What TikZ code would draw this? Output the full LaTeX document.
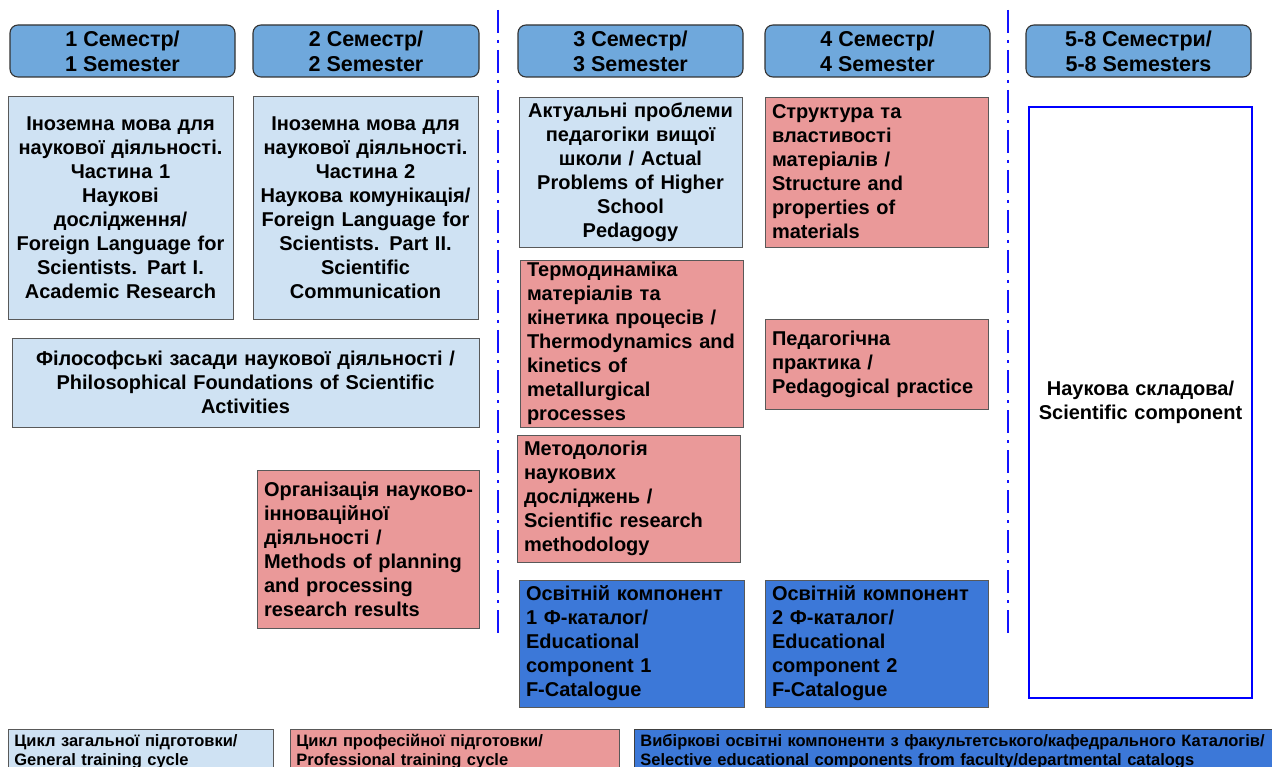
\documentclass[tikz,border=0pt]{standalone}
\usepackage{fontspec}
\setmainfont{Liberation Sans}
\usetikzlibrary{positioning}
\definecolor{hdr}{HTML}{6FA8DC}
\definecolor{lblue}{HTML}{CFE2F3}
\definecolor{pinkc}{HTML}{EA9999}
\definecolor{dblue}{HTML}{3C78D8}
\definecolor{bordg}{HTML}{595959}
\definecolor{sepblue}{HTML}{1414FF}
\begin{document}
\begin{tikzpicture}[x=1pt,y=-1pt,
  hdrbox/.style={draw=black!80, line width=1.1pt, rounded corners=8pt, fill=hdr,
    minimum height=52pt, inner sep=0pt, align=center,
    font=\fontsize{21.5}{25}\selectfont\bfseries},
  cbox/.style={draw=bordg, line width=0.8pt, inner xsep=7pt, inner ysep=0pt,
    align=center, font=\fontsize{20}{24}\selectfont\bfseries},
  lbox/.style={draw=bordg, line width=0.8pt, inner xsep=7pt, inner ysep=0pt,
    align=left, font=\fontsize{20}{24}\selectfont\bfseries},
  legbox/.style={draw=bordg, line width=0.8pt, anchor=north west, inner xsep=6pt,
    inner ysep=4pt, align=left, text height=13pt, text depth=40pt,
    font=\fontsize{16.5}{19.5}\selectfont\bfseries},
  sepline/.style={draw=sepblue, line width=2.8pt,
    dash pattern=on 23pt off 7pt on 3pt off 7pt}
]
\useasboundingbox (0,0) rectangle (1272,767);
\clip (0,0) rectangle (1272,767);

% separators
\coordinate (s1a) at (498,10);
\coordinate (s1b) at (498,637);
\coordinate (s2a) at (1008,10);
\coordinate (s2b) at (1008,637);
\draw[sepline] (s1a) -- (s1b);
\draw[sepline] (s2a) -- (s2b);

% headers
\node[hdrbox, minimum width=225pt] (h1) at (122.5,51) {1 Семестр/\\1 Semester};
\node[hdrbox, minimum width=226pt] (h2) at (366,51) {2 Семестр/\\2 Semester};
\node[hdrbox, minimum width=225pt] (h3) at (630.5,51) {3 Семестр/\\3 Semester};
\node[hdrbox, minimum width=225pt] (h4) at (877.5,51) {4 Семестр/\\4 Semester};
\node[hdrbox, minimum width=225pt] (h5) at (1138.5,51) {5-8 Семестри/\\5-8 Semesters};

% semester 1-2
\node[cbox, fill=lblue, text width=211pt, minimum height=223pt] (b1) at (120.5,207.5)
  {Іноземна мова для\\наукової діяльності.\\Частина 1\\Наукові\\дослідження/\\Foreign Language for\\Scientists. Part I.\\Academic Research};
\node[cbox, fill=lblue, text width=211pt, minimum height=223pt] (b2) at (365.5,207.5)
  {Іноземна мова для\\наукової діяльності.\\Частина 2\\Наукова комунікація/\\Foreign Language for\\Scientists. Part II.\\Scientific\\Communication};
\node[cbox, fill=lblue, text width=453pt, minimum height=89pt] (b3) at (245.5,382.5)
  {Філософські засади наукової діяльності /\\Philosophical Foundations of Scientific\\Activities};
\node[lbox, fill=pinkc, text width=208pt, minimum height=158pt] (b4) at (368,549)
  {\mbox{Організація науково-}\\інноваційної\\діяльності /\\Methods of planning\\and processing\\research results};

% semester 3
\node[cbox, fill=lblue, text width=209pt, minimum height=150pt] (b5) at (630.5,172)
  {Актуальні проблеми\\педагогіки вищої\\школи / Actual\\Problems of Higher\\School\\Pedagogy};
\node[lbox, fill=pinkc, text width=209pt, minimum height=167pt] (b6) at (631.5,343.5)
  {Термодинаміка\\матеріалів та\\кінетика процесів /\\Thermodynamics and\\kinetics of\\metallurgical\\processes};
\node[lbox, fill=pinkc, text width=209pt, minimum height=127pt] (b7) at (628.5,498.5)
  {Методологія\\наукових\\досліджень /\\Scientific research\\methodology};
\node[lbox, fill=dblue, text width=211pt, minimum height=127pt] (b8) at (631.5,643.5)
  {Освітній компонент\\1 Ф-каталог/\\Educational\\component 1\\F-Catalogue};

% semester 4
\node[lbox, fill=pinkc, text width=209pt, minimum height=150pt] (b9) at (876.5,172)
  {Структура та\\властивості\\матеріалів /\\Structure and\\properties of\\materials};
\node[lbox, fill=pinkc, text width=209pt, minimum height=90pt] (b10) at (876.5,364)
  {Педагогічна\\практика /\\Pedagogical practice};
\node[lbox, fill=dblue, text width=209pt, minimum height=127pt] (b11) at (876.5,643.5)
  {Освітній компонент\\2 Ф-каталог/\\Educational\\component 2\\F-Catalogue};

% semesters 5-8
\node[cbox, draw=blue, line width=1.8pt, fill=white, text width=209pt, minimum height=591pt] (b12) at (1140.5,402.5)
  {Наукова складова/\\Scientific component};

% legend
\node[legbox, fill=lblue, text width=253pt] (l1) at (8,729)
  {Цикл загальної підготовки/\\General training cycle};
\node[legbox, fill=pinkc, text width=317pt] (l2) at (290,729)
  {Цикл професійної підготовки/\\Professional training cycle};
\node[legbox, fill=dblue, draw=black!75, text width=640pt] (l3) at (634,729)
  {Вибіркові освітні компоненти з факультетського/кафедрального Каталогів/\\Selective educational components from faculty/departmental catalogs};
\end{tikzpicture}
\end{document}
